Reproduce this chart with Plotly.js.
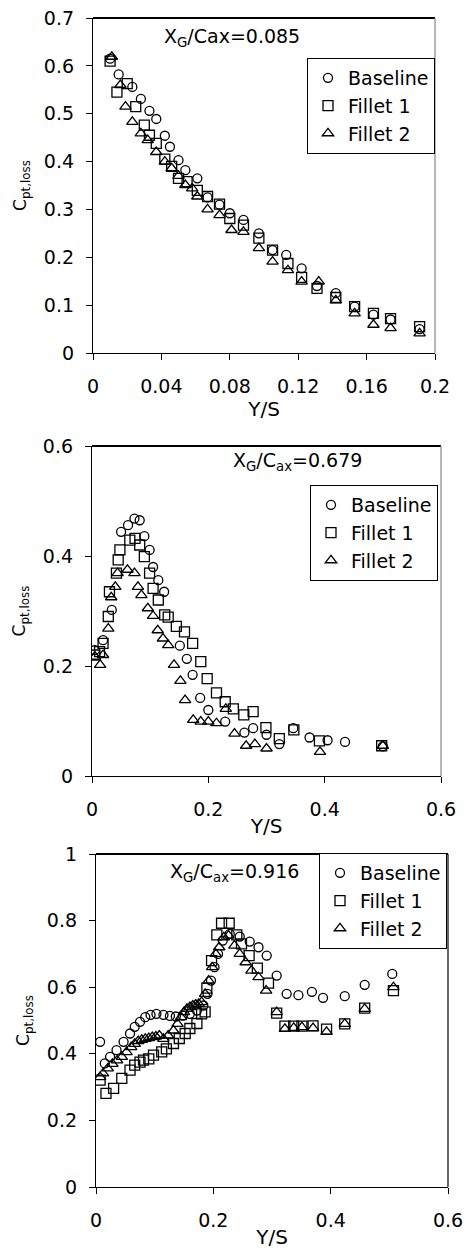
<!DOCTYPE html>
<html><head><meta charset="utf-8">
<script src="https://cdn.plot.ly/plotly-3.0.1.min.js"></script>
<style>html,body{margin:0;padding:0;background:#fff;}#chart{width:466px;height:1251px;}</style>
</head><body><div id="chart"></div>
<script>
// ---------- Panel 1 : XG/Cax = 0.085 ----------
const p1BaseX = [0.010,0.015,0.023,0.028,0.033,0.037,0.042,0.045,0.050,0.054,0.061,0.067,0.074,0.080,0.088,0.097,0.105,0.113,0.122,0.131,0.142,0.153,0.164,0.174,0.191];
const p1BaseY = [0.615,0.582,0.556,0.531,0.506,0.489,0.454,0.431,0.403,0.382,0.365,0.325,0.310,0.292,0.278,0.250,0.215,0.205,0.177,0.140,0.125,0.097,0.080,0.070,0.050];
const p1F1X = [0.010,0.014,0.020,0.025,0.030,0.033,0.037,0.042,0.046,0.050,0.055,0.061,0.067,0.074,0.080,0.088,0.097,0.105,0.114,0.122,0.131,0.142,0.153,0.164,0.174,0.191];
const p1F1Y = [0.610,0.545,0.563,0.515,0.476,0.455,0.438,0.405,0.390,0.365,0.358,0.340,0.327,0.311,0.281,0.267,0.240,0.215,0.187,0.158,0.135,0.116,0.097,0.083,0.072,0.055];
const p1F2X = [0.011,0.016,0.019,0.023,0.028,0.032,0.037,0.042,0.046,0.050,0.054,0.058,0.061,0.067,0.074,0.081,0.088,0.097,0.105,0.114,0.122,0.132,0.142,0.153,0.164,0.174,0.191];
const p1F2Y = [0.619,0.560,0.515,0.483,0.459,0.445,0.420,0.400,0.386,0.370,0.351,0.344,0.327,0.300,0.288,0.257,0.253,0.219,0.191,0.173,0.149,0.149,0.110,0.083,0.059,0.052,0.041];

// ---------- Panel 2 : XG/Cax = 0.679 ----------
const p2BaseX = [0.005,0.019,0.034,0.050,0.062,0.073,0.082,0.090,0.099,0.105,0.114,0.124,0.151,0.163,0.173,0.186,0.200,0.229,0.262,0.277,0.300,0.322,0.346,0.374,0.405,0.435,0.500];
const p2BaseY = [0.229,0.247,0.302,0.444,0.456,0.468,0.465,0.436,0.411,0.380,0.356,0.335,0.237,0.213,0.184,0.142,0.120,0.099,0.079,0.087,0.075,0.058,0.087,0.070,0.065,0.062,0.054];
const p2F1X = [0.005,0.013,0.019,0.028,0.030,0.042,0.045,0.048,0.065,0.074,0.082,0.090,0.099,0.105,0.114,0.125,0.131,0.145,0.159,0.173,0.187,0.198,0.214,0.229,0.243,0.261,0.277,0.299,0.322,0.347,0.391,0.498];
const p2F1Y = [0.220,0.226,0.241,0.290,0.335,0.369,0.393,0.411,0.429,0.432,0.420,0.399,0.369,0.341,0.320,0.293,0.289,0.272,0.262,0.241,0.208,0.177,0.151,0.135,0.122,0.111,0.117,0.088,0.068,0.084,0.064,0.055];
const p2F2X = [0.005,0.014,0.019,0.028,0.033,0.040,0.044,0.061,0.073,0.079,0.085,0.096,0.105,0.113,0.122,0.131,0.141,0.152,0.160,0.174,0.187,0.200,0.214,0.230,0.245,0.265,0.280,0.300,0.392,0.500];
const p2F2Y = [0.217,0.202,0.220,0.268,0.325,0.344,0.369,0.375,0.369,0.344,0.329,0.305,0.291,0.265,0.250,0.238,0.202,0.173,0.138,0.102,0.099,0.099,0.096,0.122,0.077,0.055,0.058,0.050,0.044,0.055];

// ---------- Panel 3 : XG/Cax = 0.916 ----------
const p3BaseX = [0.007,0.015,0.024,0.035,0.047,0.058,0.066,0.075,0.084,0.093,0.103,0.115,0.126,0.136,0.148,0.160,0.172,0.183,0.190,0.196,0.202,0.208,0.216,0.228,0.245,0.262,0.277,0.291,0.308,0.325,0.345,0.368,0.387,0.424,0.458,0.505];
const p3BaseY = [0.436,0.371,0.391,0.411,0.436,0.461,0.481,0.496,0.510,0.517,0.520,0.517,0.514,0.512,0.515,0.520,0.530,0.545,0.580,0.620,0.660,0.700,0.740,0.760,0.752,0.737,0.720,0.695,0.635,0.580,0.576,0.586,0.568,0.573,0.607,0.640];
const p3F1X = [0.007,0.017,0.030,0.044,0.058,0.066,0.075,0.081,0.090,0.098,0.112,0.120,0.132,0.142,0.152,0.160,0.172,0.180,0.186,0.189,0.197,0.206,0.214,0.227,0.240,0.248,0.261,0.275,0.294,0.308,0.322,0.337,0.351,0.370,0.393,0.424,0.458,0.507];
const p3F1Y = [0.321,0.281,0.296,0.326,0.351,0.366,0.375,0.381,0.385,0.396,0.406,0.415,0.431,0.446,0.461,0.476,0.491,0.520,0.526,0.597,0.680,0.757,0.792,0.792,0.757,0.730,0.695,0.657,0.612,0.522,0.483,0.483,0.483,0.484,0.474,0.490,0.537,0.590];
const p3F2X = [0.007,0.012,0.020,0.028,0.036,0.044,0.052,0.060,0.066,0.072,0.078,0.084,0.090,0.096,0.102,0.108,0.115,0.123,0.132,0.139,0.145,0.150,0.155,0.160,0.165,0.170,0.175,0.180,0.186,0.192,0.198,0.204,0.210,0.218,0.226,0.236,0.245,0.255,0.265,0.277,0.290,0.308,0.322,0.337,0.351,0.370,0.393,0.424,0.458,0.507];
const p3F2Y = [0.330,0.341,0.356,0.370,0.380,0.391,0.405,0.420,0.430,0.438,0.442,0.445,0.447,0.450,0.452,0.455,0.445,0.455,0.470,0.490,0.510,0.525,0.535,0.540,0.545,0.548,0.550,0.555,0.580,0.620,0.660,0.700,0.720,0.750,0.755,0.725,0.700,0.675,0.650,0.630,0.590,0.525,0.475,0.478,0.480,0.477,0.466,0.490,0.535,0.600];

// ---------- labels ----------
const seriesNames = ["Baseline","Fillet 1","Fillet 2"];
const panelLabels = ["X<sub>G</sub>/Cax=0.085","X<sub>G</sub>/C<sub>ax</sub>=0.679","X<sub>G</sub>/C<sub>ax</sub>=0.916"];
const xTitle = "Y/S";
const yTitle = "C<sub>pt,loss</sub>";
const p1XTicks = [0,0.04,0.08,0.12,0.16,0.2];
const p1XTickText = ["0","0.04","0.08","0.12","0.16","0.2"];
const p1YTicks = [0,0.1,0.2,0.3,0.4,0.5,0.6,0.7];
const p1YTickText = ["0","0.1","0.2","0.3","0.4","0.5","0.6","0.7"];
const p2XTicks = [0,0.2,0.4,0.6];
const p2XTickText = ["0","0.2","0.4","0.6"];
const p2YTicks = [0,0.2,0.4,0.6];
const p2YTickText = ["0","0.2","0.4","0.6"];
const p3XTicks = [0,0.2,0.4,0.6];
const p3XTickText = ["0","0.2","0.4","0.6"];
const p3YTicks = [0,0.2,0.4,0.6,0.8,1];
const p3YTickText = ["0","0.2","0.4","0.6","0.8","1"];

const FONT = "DejaVu Sans, Liberation Sans, Arial, sans-serif";
const symbols = ["circle-open","square-open","triangle-up-open"];
const sizes = [9,10,10];

function tr(x,y,i,ax,leg){
  return {x:x,y:y,type:"scatter",mode:"markers",name:seriesNames[i],
    xaxis:"x"+ax, yaxis:"y"+ax, legend:leg,
    marker:{symbol:symbols[i],size:sizes[i],color:"#000",line:{color:"#000",width:1.3}},
    hoverinfo:"x+y"};
}
const data = [
  tr(p1BaseX,p1BaseY,0,"","legend"), tr(p1F1X,p1F1Y,1,"","legend"), tr(p1F2X,p1F2Y,2,"","legend"),
  tr(p2BaseX,p2BaseY,0,"2","legend2"), tr(p2F1X,p2F1Y,1,"2","legend2"), tr(p2F2X,p2F2Y,2,"2","legend2"),
  tr(p3BaseX,p3BaseY,0,"3","legend3"), tr(p3F1X,p3F1Y,1,"3","legend3"), tr(p3F2X,p3F2Y,2,"3","legend3")
];

const W=466,H=1251;
function px(v){return v/W;} function py(v){return 1-v/H;}
const panels = [
  {l:93,r:435,t:18,b:353},
  {l:92,r:441,t:446,b:776},
  {l:96,r:448,t:854,b:1187}
];
function xax(p,range,tv,tt,anchor){
  return {domain:[px(p.l),px(p.r)],range:range,anchor:anchor,showgrid:false,zeroline:false,
    showline:true,linecolor:"#000",linewidth:1.3,ticks:"outside",ticklen:6,tickcolor:"#000",tickwidth:1.2,
    tickvals:tv,ticktext:tt,tickfont:{family:FONT,size:19,color:"#000"},ticklabelstandoff:10,
    title:{text:xTitle,font:{family:FONT,size:20,color:"#000"},standoff:0},automargin:false,fixedrange:true};
}
function yax(p,range,tv,tt,anchor){
  return {domain:[py(p.b),py(p.t)],range:range,anchor:anchor,showgrid:false,zeroline:false,
    showline:true,linecolor:"#000",linewidth:1.3,ticks:"outside",ticklen:6,tickcolor:"#000",tickwidth:1.2,
    tickvals:tv,ticktext:tt,tickfont:{family:FONT,size:19,color:"#000"},ticklabelstandoff:8,
    title:{text:yTitle,font:{family:FONT,size:17,color:"#000"},standoff:12},automargin:false,fixedrange:true};
}
function frame(ax,col){
  const xr = ax===""?"x domain":"x"+ax+" domain";
  const yr = ax===""?"y domain":"y"+ax+" domain";
  return [
    {type:"line",xref:xr,yref:yr,x0:0,x1:1,y0:1,y1:1,line:{color:"#000",width:2}},
    {type:"line",xref:xr,yref:yr,x0:1,x1:1,y0:0,y1:1,line:{color:col,width:1.2}}
  ];
}
function legend(x,y){
  return {x:x,y:y,xanchor:"right",yanchor:"top",bgcolor:"#fff",bordercolor:"#000",borderwidth:1,
    font:{family:FONT,size:19,color:"#000"},itemsizing:"trace",tracegroupgap:0,itemwidth:30};
}
function ann(text,x,y){
  return {text:text,xref:"paper",yref:"paper",x:x,y:y,xanchor:"center",yanchor:"middle",showarrow:false,
    font:{family:FONT,size:19,color:"#000"}};
}
const layout = {
  width:W,height:H,margin:{l:0,r:0,t:0,b:0},paper_bgcolor:"#fff",plot_bgcolor:"#fff",
  showlegend:true,
  xaxis: xax(panels[0],[0,0.2],p1XTicks,p1XTickText,"y"),
  yaxis: yax(panels[0],[0,0.7],p1YTicks,p1YTickText,"x"),
  xaxis2: xax(panels[1],[0,0.6],p2XTicks,p2XTickText,"y2"),
  yaxis2: yax(panels[1],[0,0.6],p2YTicks,p2YTickText,"x2"),
  xaxis3: xax(panels[2],[0,0.6],p3XTicks,p3XTickText,"y3"),
  yaxis3: yax(panels[2],[0,1],p3YTicks,p3YTickText,"x3"),
  legend: legend(px(435),py(58)),
  legend2: legend(px(438),py(485)),
  legend3: legend(px(447),py(853)),
  annotations:[ann(panelLabels[0],px(232),py(38)),ann(panelLabels[1],px(297),py(462)),ann(panelLabels[2],px(234),py(872))],
  shapes:[].concat(frame("","#888"),frame("2","#888"),frame("3","#000"))
};
Plotly.newPlot("chart",data,layout,{displayModeBar:false});
</script></body></html>
